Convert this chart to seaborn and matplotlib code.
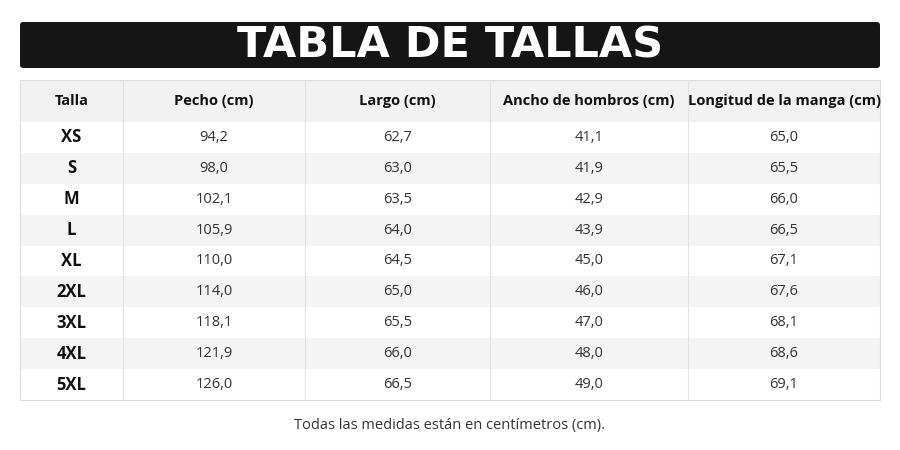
import matplotlib
matplotlib.use("Agg")
import matplotlib.pyplot as plt
from matplotlib.patches import Rectangle, FancyBboxPatch
import seaborn as sns

sns.set_theme(style="white")
plt.rcParams['font.family'] = ['Open Sans', 'DejaVu Sans']

title = "TABLA DE TALLAS"
headers = ["Talla", "Pecho (cm)", "Largo (cm)", "Ancho de hombros (cm)", "Longitud de la manga (cm)"]
tallas = ["XS", "S", "M", "L", "XL", "2XL", "3XL", "4XL", "5XL"]
pecho = ["94,2", "98,0", "102,1", "105,9", "110,0", "114,0", "118,1", "121,9", "126,0"]
largo = ["62,7", "63,0", "63,5", "64,0", "64,5", "65,0", "65,5", "66,0", "66,5"]
hombros = ["41,1", "41,9", "42,9", "43,9", "45,0", "46,0", "47,0", "48,0", "49,0"]
manga = ["65,0", "65,5", "66,0", "66,5", "67,1", "67,6", "68,1", "68,6", "69,1"]
footnote = "Todas las medidas están en centímetros (cm)."

fig = plt.figure(figsize=(9, 4.5), dpi=100)
ax = fig.add_axes([0, 0, 1, 1])
ax.set_xlim(0, 900)
ax.set_ylim(450, 0)
ax.axis("off")

# title bar
ax.add_patch(FancyBboxPatch((20, 22), 860, 46, boxstyle="round,pad=0,rounding_size=3",
                            fc="#151515", ec="none"))
ax.text(450, 46, title, ha="center", va="center", color="white", fontsize=31,
        fontweight="black", family=["DejaVu Sans"])

col_edges = [20, 123, 305, 490, 688, 880]
top, head_h = 80, 42
row_h = (400 - top - head_h) / len(tallas)

# header
ax.add_patch(Rectangle((20, top), 860, head_h, fc="#f2f2f2", ec="none"))
for i, h in enumerate(headers):
    cx = (col_edges[i] + col_edges[i + 1]) / 2
    ax.text(cx, top + head_h / 2, h, ha="center", va="center", fontsize=10.5,
            fontweight="bold", color="#111")

cols = [tallas, pecho, largo, hombros, manga]
for r in range(len(tallas)):
    y0 = top + head_h + r * row_h
    ax.add_patch(Rectangle((20, y0), 860, row_h,
                           fc="#f4f4f4" if r % 2 == 1 else "white", ec="none"))
    for c, col in enumerate(cols):
        cx = (col_edges[c] + col_edges[c + 1]) / 2
        if c == 0:
            ax.text(cx, y0 + row_h / 2, col[r], ha="center", va="center",
                    fontsize=12, fontweight="bold", color="#111")
        else:
            ax.text(cx, y0 + row_h / 2, col[r], ha="center", va="center",
                    fontsize=10.5, color="#333")

for x in col_edges[1:-1]:
    ax.plot([x, x], [top, 400], color="#e2e2e2", lw=0.8)
ax.add_patch(Rectangle((20, top), 860, 400 - top, fill=False, ec="#dcdcdc", lw=0.8))

ax.text(450, 425, footnote, ha="center", va="center", fontsize=10.5, color="#333")

fig.savefig("out.png", dpi=100, facecolor="white")
